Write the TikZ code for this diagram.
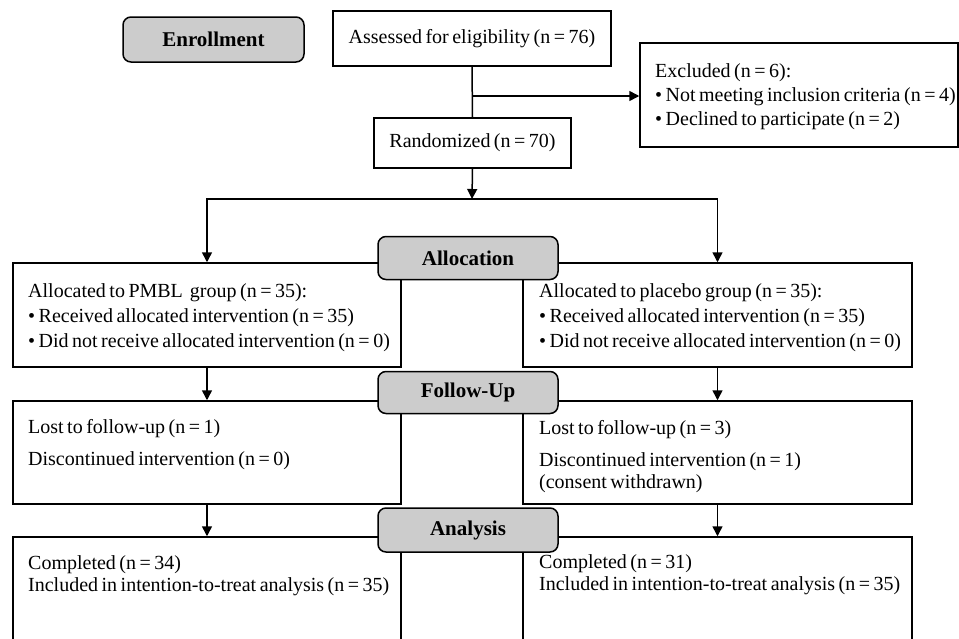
\documentclass[tikz,border=0pt]{standalone}
\usepackage{fontspec}
\setmainfont[WordSpace=0.7]{Liberation Serif}
\usetikzlibrary{arrows.meta}
\definecolor{phasegray}{RGB}{204,204,204}
\tikzset{
  box/.style={draw, line width=1.5pt, fill=white, inner sep=0pt},
  phase/.style={draw, line width=1.5pt, fill=phasegray, rounded corners=8pt, inner sep=0pt,
    font=\fontsize{21}{24}\selectfont\bfseries, minimum width=180pt, minimum height=43pt},
  txt/.style={anchor=base west, align=left, inner sep=0pt, font=\fontsize{20}{25}\selectfont},
  arr/.style={line width=1.5pt, -{Triangle[length=10pt,width=10pt]}},
  ln/.style={line width=1.5pt}
}
\begin{document}
\begin{tikzpicture}[x=1pt,y=-1pt]
\useasboundingbox (0,0) rectangle (959,638);
\clip (0,0) rectangle (959,638);
\fill[white] (0,0) rectangle (959,638);
% enrollment stage
\node[phase, minimum width=181pt, minimum height=45pt] (enroll) at (213.5,39.5) {Enrollment};
\node[box, minimum width=278pt, minimum height=55pt, font=\fontsize{20}{25}\selectfont] (assess) at (472,38.5) {Assessed for eligibility (n = 76)};
\node[box, minimum width=197pt, minimum height=50pt, font=\fontsize{20}{25}\selectfont] (random) at (472.5,143) {Randomized (n = 70)};
\node[box, minimum width=318pt, minimum height=104pt] (excl) at (799,95) {};
% base anchor of a multi-line node = baseline of its last line
\node[txt, font=\fontsize{20}{24}\selectfont] (exclt) at (655,125) {Excluded (n = 6):\\\textbullet\ Not meeting inclusion criteria (n = 4)\\\textbullet\ Declined to participate (n = 2)};
% allocation boxes
\node[box, minimum width=388pt, minimum height=104pt] (a1) at (207,315) {};
\node[box, minimum width=389pt, minimum height=104pt] (a2) at (717.5,315) {};
\node[txt] (a1t) at (28,347) {Allocated to PMBL~ group (n = 35):\\\textbullet\ Received allocated intervention (n = 35)\\\textbullet\ Did not receive allocated intervention (n = 0)};
\node[txt] (a2t) at (539,347) {Allocated to placebo group (n = 35):\\\textbullet\ Received allocated intervention (n = 35)\\\textbullet\ Did not receive allocated intervention (n = 0)};
% follow-up boxes
\node[box, minimum width=388pt, minimum height=103pt] (f1) at (207,452.5) {};
\node[box, minimum width=389pt, minimum height=103pt] (f2) at (717.5,452.5) {};
\node[txt] (f1t) at (28,465) {Lost to follow-up (n = 1)\\[7pt]Discontinued intervention (n = 0)};
\node[txt] (f2t) at (539,488) {Lost to follow-up (n = 3)\\[7pt]Discontinued intervention (n = 1)\\[-3pt](consent withdrawn)};
% analysis boxes
\node[box, minimum width=388pt, minimum height=120pt] (n1) at (207,597) {};
\node[box, minimum width=389pt, minimum height=120pt] (n2) at (717.5,597) {};
\node[txt, font=\fontsize{20}{22}\selectfont] (n1t) at (28,591) {Completed (n = 34)\\Included in intention-to-treat analysis (n = 35)};
\node[txt, font=\fontsize{20}{22}\selectfont] (n2t) at (539,590) {Completed (n = 31)\\Included in intention-to-treat analysis (n = 35)};
% phase labels on top
\node[phase] (palloc) at (468,258) {Allocation};
\node[phase, minimum height=42pt] (pfollow) at (468,392.5) {Follow-Up};
\node[phase, minimum height=44pt] (panal) at (468,530) {Analysis};
% connectors
\coordinate (j1) at (472,96);
\coordinate (j2) at (472,199);
\draw[ln] (assess.south) -- (random.north);
\draw[arr] (j1) -- (j1 -| excl.west);
\draw[arr] (random.south) -- (j2);
\draw[arr] (j2) -| (a1.north);
\draw[arr] (j2) -| (a2.north);
\draw[arr] (a1.south) -- (f1.north);
\draw[arr] (a2.south) -- (f2.north);
\draw[arr] (f1.south) -- (n1.north);
\draw[arr] (f2.south) -- (n2.north);
\end{tikzpicture}
\end{document}
